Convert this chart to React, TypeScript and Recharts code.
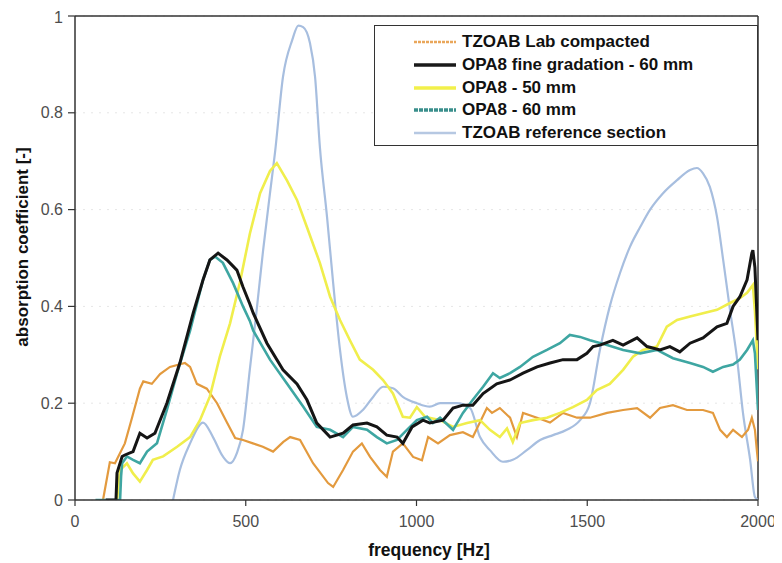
import React from 'react';
import { LineChart, Line, XAxis, YAxis, CartesianGrid, Legend, ReferenceLine, Label } from 'recharts';

const FONT = '"Liberation Sans", Arial, Helvetica, sans-serif';

const xTicks = [0, 500, 1000, 1500, 2000];
const yTicks = [0, 0.2, 0.4, 0.6, 0.8, 1];

const labFreq = [82, 102, 117, 146, 167, 190, 200, 225, 249, 278, 322, 337, 357, 386, 416, 445, 469, 492, 521, 550, 580, 610, 630, 659, 697, 741, 756, 785, 814, 840, 864, 893, 913, 931, 960, 990, 1016, 1034, 1063, 1098, 1136, 1165, 1206, 1221, 1244, 1274, 1294, 1312, 1353, 1391, 1429, 1470, 1508, 1558, 1605, 1646, 1684, 1713, 1751, 1792, 1839, 1868, 1889, 1909, 1927, 1953, 1971, 1982, 1991, 1997, 2000];
const labAbs = [0, 0.078, 0.076, 0.117, 0.17, 0.23, 0.245, 0.24, 0.26, 0.275, 0.283, 0.275, 0.24, 0.23, 0.2, 0.16, 0.128, 0.124, 0.117, 0.11, 0.1, 0.12, 0.13, 0.124, 0.076, 0.035, 0.027, 0.062, 0.1, 0.117, 0.089, 0.062, 0.048, 0.1, 0.117, 0.089, 0.082, 0.13, 0.117, 0.134, 0.14, 0.13, 0.19, 0.18, 0.19, 0.17, 0.13, 0.18, 0.17, 0.16, 0.18, 0.17, 0.17, 0.18, 0.186, 0.19, 0.17, 0.19, 0.196, 0.186, 0.186, 0.18, 0.145, 0.13, 0.145, 0.13, 0.145, 0.17, 0.145, 0.1, 0.08];

const fineFreq = [90, 120, 123, 138, 146, 170, 190, 211, 234, 269, 307, 346, 375, 395, 419, 445, 474, 492, 512, 522, 562, 609, 650, 679, 708, 747, 785, 814, 855, 884, 913, 943, 960, 987, 1019, 1039, 1078, 1107, 1136, 1165, 1195, 1235, 1274, 1312, 1353, 1391, 1429, 1470, 1499, 1517, 1537, 1575, 1605, 1646, 1675, 1713, 1742, 1771, 1801, 1839, 1880, 1909, 1927, 1947, 1968, 1982, 1985, 1991, 2000];
const fineAbs = [0, 0, 0.056, 0.09, 0.093, 0.1, 0.138, 0.128, 0.138, 0.2, 0.283, 0.386, 0.455, 0.496, 0.51, 0.496, 0.475, 0.44, 0.405, 0.386, 0.324, 0.269, 0.24, 0.207, 0.159, 0.13, 0.138, 0.155, 0.159, 0.151, 0.134, 0.13, 0.117, 0.151, 0.165, 0.159, 0.165, 0.19, 0.196, 0.196, 0.22, 0.24, 0.248, 0.262, 0.275, 0.283, 0.29, 0.29, 0.303, 0.317, 0.32, 0.33, 0.32, 0.335, 0.317, 0.31, 0.317, 0.306, 0.324, 0.335, 0.358, 0.365, 0.4, 0.42, 0.455, 0.51, 0.516, 0.48, 0.33];

const mm50Freq = [123, 132, 152, 170, 190, 211, 228, 258, 299, 337, 366, 395, 424, 454, 483, 512, 542, 571, 591, 621, 650, 679, 717, 747, 776, 805, 834, 873, 902, 931, 960, 981, 1001, 1025, 1069, 1107, 1148, 1186, 1215, 1244, 1265, 1282, 1303, 1341, 1382, 1420, 1458, 1499, 1528, 1566, 1605, 1634, 1663, 1704, 1733, 1763, 1801, 1839, 1880, 1918, 1947, 1968, 1985, 1991, 2000];
const mm50Abs = [0, 0.062, 0.076, 0.055, 0.038, 0.062, 0.083, 0.09, 0.11, 0.13, 0.165, 0.214, 0.296, 0.365, 0.45, 0.55, 0.634, 0.68, 0.696, 0.66, 0.62, 0.564, 0.49, 0.42, 0.372, 0.33, 0.29, 0.269, 0.248, 0.22, 0.172, 0.17, 0.192, 0.172, 0.165, 0.151, 0.159, 0.165, 0.145, 0.13, 0.148, 0.12, 0.159, 0.165, 0.17, 0.18, 0.192, 0.207, 0.227, 0.24, 0.269, 0.296, 0.31, 0.317, 0.358, 0.372, 0.379, 0.386, 0.393, 0.407, 0.417, 0.428, 0.444, 0.39, 0.27];

const mm60Freq = [60, 132, 135, 138, 152, 170, 190, 211, 240, 269, 299, 337, 375, 395, 410, 433, 463, 492, 512, 522, 571, 621, 668, 708, 747, 785, 814, 855, 884, 913, 943, 972, 1001, 1031, 1048, 1069, 1107, 1136, 1165, 1195, 1224, 1244, 1274, 1303, 1341, 1382, 1420, 1449, 1479, 1508, 1558, 1605, 1655, 1704, 1751, 1801, 1839, 1868, 1898, 1927, 1947, 1968, 1985, 1991, 2000];
const mm60Abs = [0, 0, 0.05, 0.076, 0.09, 0.083, 0.076, 0.1, 0.117, 0.186, 0.262, 0.35, 0.455, 0.496, 0.503, 0.49, 0.448, 0.4, 0.37, 0.35, 0.29, 0.24, 0.193, 0.151, 0.145, 0.13, 0.151, 0.145, 0.13, 0.117, 0.124, 0.145, 0.165, 0.172, 0.159, 0.17, 0.145, 0.18, 0.207, 0.234, 0.262, 0.252, 0.262, 0.275, 0.296, 0.31, 0.324, 0.341, 0.337, 0.33, 0.32, 0.31, 0.303, 0.31, 0.293, 0.283, 0.275, 0.265, 0.275, 0.28, 0.29, 0.31, 0.33, 0.303, 0.186];

const refFreq = [287, 307, 337, 375, 404, 433, 454, 474, 492, 512, 532, 551, 571, 586, 609, 636, 654, 668, 688, 703, 717, 738, 756, 776, 796, 814, 843, 873, 902, 931, 960, 1001, 1039, 1069, 1118, 1157, 1186, 1215, 1253, 1282, 1323, 1362, 1400, 1440, 1479, 1508, 1537, 1566, 1596, 1625, 1655, 1684, 1722, 1763, 1801, 1821, 1839, 1859, 1880, 1898, 1918, 1939, 1956, 1977, 1991, 2000];
const refAbs = [0, 0.062, 0.117, 0.16, 0.13, 0.09, 0.076, 0.097, 0.145, 0.27, 0.393, 0.517, 0.634, 0.72, 0.874, 0.95, 0.98, 0.977, 0.944, 0.874, 0.73, 0.585, 0.448, 0.31, 0.213, 0.172, 0.186, 0.213, 0.234, 0.231, 0.213, 0.2, 0.193, 0.2, 0.2, 0.19, 0.13, 0.103, 0.079, 0.083, 0.103, 0.124, 0.134, 0.145, 0.165, 0.2, 0.31, 0.4, 0.469, 0.523, 0.564, 0.6, 0.634, 0.661, 0.682, 0.686, 0.675, 0.647, 0.585, 0.496, 0.393, 0.29, 0.18, 0.083, 0.006, 0];

const zip = (f: number[], a: number[]) => f.map((x, i) => ({ f: x, a: a[i] }));

const legendItems = [
  { name: 'TZOAB Lab compacted', color: '#E9A65A', width: 2.5, dash: '3 1' },
  { name: 'OPA8 fine gradation - 60 mm', color: '#1a1a1a', width: 3.5, dash: undefined },
  { name: 'OPA8 - 50 mm', color: '#F2F04A', width: 3.5, dash: undefined },
  { name: 'OPA8 - 60 mm', color: '#3A8F8C', width: 3.5, dash: '4 1' },
  { name: 'TZOAB reference section', color: '#B6C8E2', width: 2.5, dash: undefined },
];

const renderLegend = () => (
  <div
    style={{
      width: 384,
      height: 121,
      boxSizing: 'border-box',
      border: '1.5px solid #333',
      background: '#fff',
      position: 'relative',
      fontFamily: FONT,
      fontWeight: 700,
      fontSize: 17,
      color: '#111',
    }}
  >
    {legendItems.map((it, i) => (
      <div
        key={it.name}
        style={{
          position: 'absolute',
          left: 39,
          top: 16 + i * 22.75 - 11,
          height: 22,
          display: 'flex',
          alignItems: 'center',
          whiteSpace: 'nowrap',
        }}
      >
        <svg width={42} height={6}>
          <line x1={0} y1={3} x2={42} y2={3} stroke={it.color} strokeWidth={it.width} strokeDasharray={it.dash} />
        </svg>
        <span style={{ marginLeft: 6 }}>{it.name}</span>
      </div>
    ))}
  </div>
);

export default function App() {
  const tickStyle = { fontFamily: FONT, fontSize: 16, fill: '#4d4d4d' };
  return (
    <LineChart width={774} height={555} margin={{ top: 8, right: 24, bottom: 0, left: 7 }}>
      <CartesianGrid vertical={false} stroke="#e6e6e6" strokeDasharray="2 6" />
      <XAxis
        type="number"
        dataKey="f"
        domain={[0, 2000]}
        ticks={xTicks}
        allowDataOverflow
        height={63}
        tickSize={6}
        tickMargin={10}
        tick={tickStyle}
        axisLine={{ stroke: '#333', strokeWidth: 1.5 }}
        tickLine={{ stroke: '#333', strokeWidth: 1.2 }}
      >
        <Label
          content={() => (
            <text x={421} y={542} textAnchor="middle" dominantBaseline="central" fontFamily={FONT} fontWeight={700} fontSize={17.5} fill="#111">
              frequency [Hz]
            </text>
          )}
        />
      </XAxis>
      <YAxis
        type="number"
        domain={[0, 1]}
        ticks={yTicks}
        allowDataOverflow
        width={60}
        tickSize={7}
        tickMargin={5}
        tick={tickStyle}
        axisLine={{ stroke: '#333', strokeWidth: 1.5 }}
        tickLine={{ stroke: '#333', strokeWidth: 1.2 }}
      >
        <Label
          content={() => (
            <text x={14} y={239} transform="rotate(-90 14 239)" textAnchor="middle" dominantBaseline="central" fontFamily={FONT} fontWeight={700} fontSize={17} fill="#111">
              absorption coefficient [-]
            </text>
          )}
        />
      </YAxis>
      <ReferenceLine y={1} stroke="#333" strokeWidth={1.5} />
      <ReferenceLine x={2000} stroke="#333" strokeWidth={1.5} />
      <Line data={zip(refFreq, refAbs)} dataKey="a" name="TZOAB reference section" stroke="#A7BEDF" strokeWidth={2.2} dot={false} type="monotone" isAnimationActive={false} legendType="none" />
      <Line data={zip(labFreq, labAbs)} dataKey="a" name="TZOAB Lab compacted" stroke="#E39A3E" strokeWidth={2.2} dot={false} type="linear" isAnimationActive={false} legendType="none" />
      <Line data={zip(mm50Freq, mm50Abs)} dataKey="a" name="OPA8 - 50 mm" stroke="#F0EE4C" strokeWidth={2.6} dot={false} type="linear" isAnimationActive={false} legendType="none" />
      <Line data={zip(mm60Freq, mm60Abs)} dataKey="a" name="OPA8 - 60 mm" stroke="#3EA6A2" strokeWidth={2.6} dot={false} type="linear" isAnimationActive={false} legendType="none" />
      <Line data={zip(fineFreq, fineAbs)} dataKey="a" name="OPA8 fine gradation - 60 mm" stroke="#151515" strokeWidth={3} dot={false} type="linear" isAnimationActive={false} legendType="none" />
      <Legend
        layout="vertical"
        align="center"
        verticalAlign="middle"
        content={renderLegend}
        wrapperStyle={{ position: 'absolute', left: 366, top: 17, width: 384, height: 121 }}
      />
    </LineChart>
  );
}
